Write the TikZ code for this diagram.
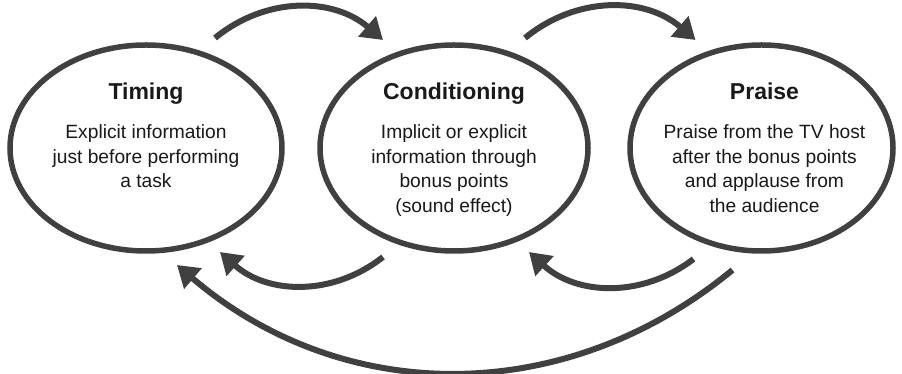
\documentclass[tikz,border=0pt]{standalone}
\usepackage{fontspec}
\setmainfont{Liberation Sans}
\usetikzlibrary{shapes.geometric, arrows.meta, positioning}
\definecolor{strokegray}{RGB}{64, 64, 64}
\definecolor{textblack}{RGB}{25, 25, 25}

\begin{document}
\begin{tikzpicture}[x=1pt, y=1pt,
    stage/.style={ellipse, draw=strokegray, line width=5.5pt, fill=white,
                  inner sep=0pt, minimum height=206pt},
    stagetitle/.style={font=\fontsize{23}{28}\selectfont\bfseries, color=textblack,
                       inner sep=0pt, text depth=0pt},
    desc/.style={font=\fontsize{19.2}{24.8}\selectfont, color=textblack,
                 align=center, inner sep=0pt},
    flow/.style={-{Triangle[length=21pt, width=26pt]}, line width=6pt,
                 color=strokegray, bend left=40}
]
\useasboundingbox (0,0) rectangle (902,374);

% the three stages
\node[stage, minimum width=272pt] (timing) at (146,226) {};
\node[stage, minimum width=268pt] (cond) at (454,226) {};
\node[stage, minimum width=263pt] (praise) at (761.5,226) {};

\node[stagetitle, anchor=base] (timing-title) at ([yshift=48pt]timing.center) {Timing};
\node[stagetitle, anchor=base] (cond-title) at ([yshift=48pt]cond.center) {Conditioning};
\node[stagetitle, anchor=base] (praise-title) at ([xshift=3pt, yshift=48pt]praise.center) {Praise};

\node[desc, below=24pt of timing-title] (timing-desc) {Explicit information\\just before performing\\a task};
\node[desc, below=24pt of cond-title] (cond-desc) {Implicit or explicit\\information through\\bonus points\\(sound effect)};
\node[desc, below=24pt of praise-title] (praise-desc) {Praise from the TV host\\after the bonus points\\and applause from\\the audience};

% arrow ends around the stages
\coordinate (timing-out) at ([shift={(69,110)}]timing.center);
\coordinate (cond-in) at ([shift={(-71,108)}]cond.center);
\coordinate (cond-out) at ([shift={(71,110)}]cond.center);
\coordinate (praise-in) at ([shift={(-66,108)}]praise.center);
\coordinate (cond-back) at ([shift={(-71,-109)}]cond.center);
\coordinate (timing-back) at ([shift={(74,-104)}]timing.center);
\coordinate (praise-back) at ([shift={(-68,-111)}]praise.center);
\coordinate (cond-ret) at ([shift={(75,-104)}]cond.center);
\coordinate (praise-loop) at ([shift={(-29,-122)}]praise.center);
\coordinate (timing-loop) at ([shift={(31,-117)}]timing.center);

\draw[flow] (timing-out) to (cond-in);
\draw[flow] (cond-out) to (praise-in);
\draw[flow] (cond-back) to (timing-back);
\draw[flow] (praise-back) to (cond-ret);
\draw[flow] (praise-loop) to (timing-loop);

\end{tikzpicture}
\end{document}
